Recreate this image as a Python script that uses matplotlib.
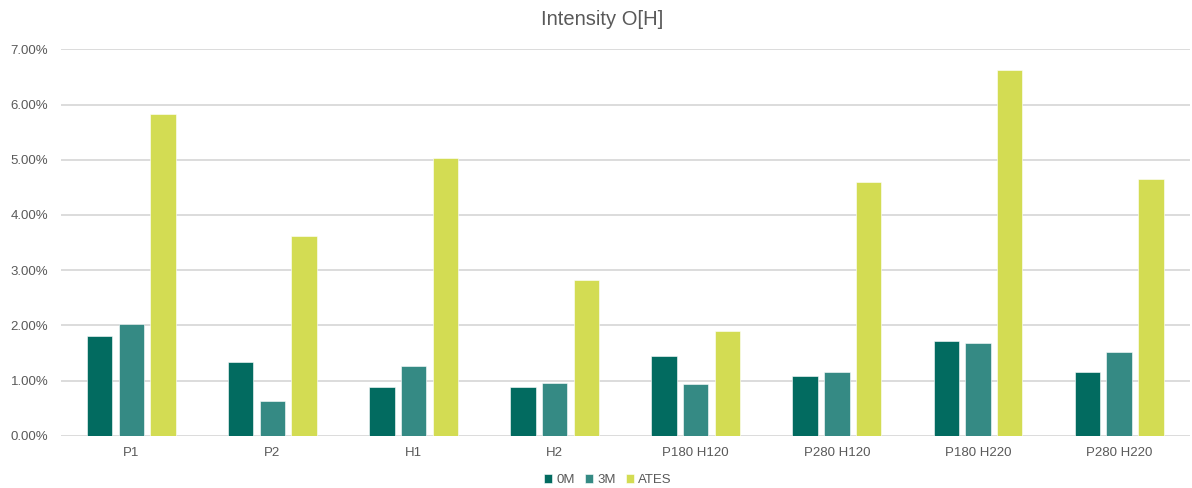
import numpy as np
import matplotlib
matplotlib.use("Agg")
import matplotlib.pyplot as plt
from matplotlib.ticker import PercentFormatter

categories = ["P1", "P2", "H1", "H2", "P180 H120", "P280 H120", "P180 H220", "P280 H220"]
series_names = ["0M", "3M", "ATES"]
vals_0m = [1.81, 1.33, 0.89, 0.89, 1.44, 1.08, 1.72, 1.15]
vals_3m = [2.02, 0.63, 1.27, 0.95, 0.93, 1.15, 1.68, 1.52]
vals_ates = [5.82, 3.61, 5.04, 2.83, 1.89, 4.60, 6.63, 4.65]
colors = ["#026B60", "#358A84", "#D3DC53"]

plt.rcParams["font.family"] = ["Liberation Sans", "DejaVu Sans"]
text_color = "#595959"
grid_color = "#D9D9D9"

fig = plt.figure(figsize=(11.92, 4.88), dpi=100)
ax = fig.add_axes([0.051, 0.107, 0.947, 0.792])

x = np.arange(len(categories))
width = 0.18
step = 0.225
for i, (name, vals) in enumerate(zip(series_names, [vals_0m, vals_3m, vals_ates])):
    ax.bar(x + (i - 1) * step, np.array(vals) / 100, width, color=colors[i],
           label=name, edgecolor="white", linewidth=0.4, zorder=3)

ax.set_xlim(-0.5, len(categories) - 0.5)
ax.set_ylim(0, 0.07)
ax.set_yticks(np.arange(0, 0.0701, 0.01))
ax.yaxis.set_major_formatter(PercentFormatter(1.0, decimals=2))
ax.set_xticks(x)
ax.set_xticklabels(categories)
ax.grid(axis="y", color=grid_color, linewidth=1.3, zorder=0)
for s in ax.spines.values():
    s.set_visible(False)
ax.tick_params(axis="both", length=0, labelsize=9.5, colors=text_color)
ax.tick_params(axis="x", pad=8)
ax.tick_params(axis="y", pad=9)

fig.text(0.505, 0.96, "Intensity O[H]", ha="center", va="center", fontsize=14.5, color=text_color)

leg = fig.legend(loc="center", bbox_to_anchor=(0.51, 0.016), ncol=3, frameon=False,
                 fontsize=9.5, handlelength=0.6, handleheight=0.6, handletextpad=0.3,
                 columnspacing=0.8)
for t in leg.get_texts():
    t.set_color(text_color)

fig.savefig("out.png", dpi=100)
